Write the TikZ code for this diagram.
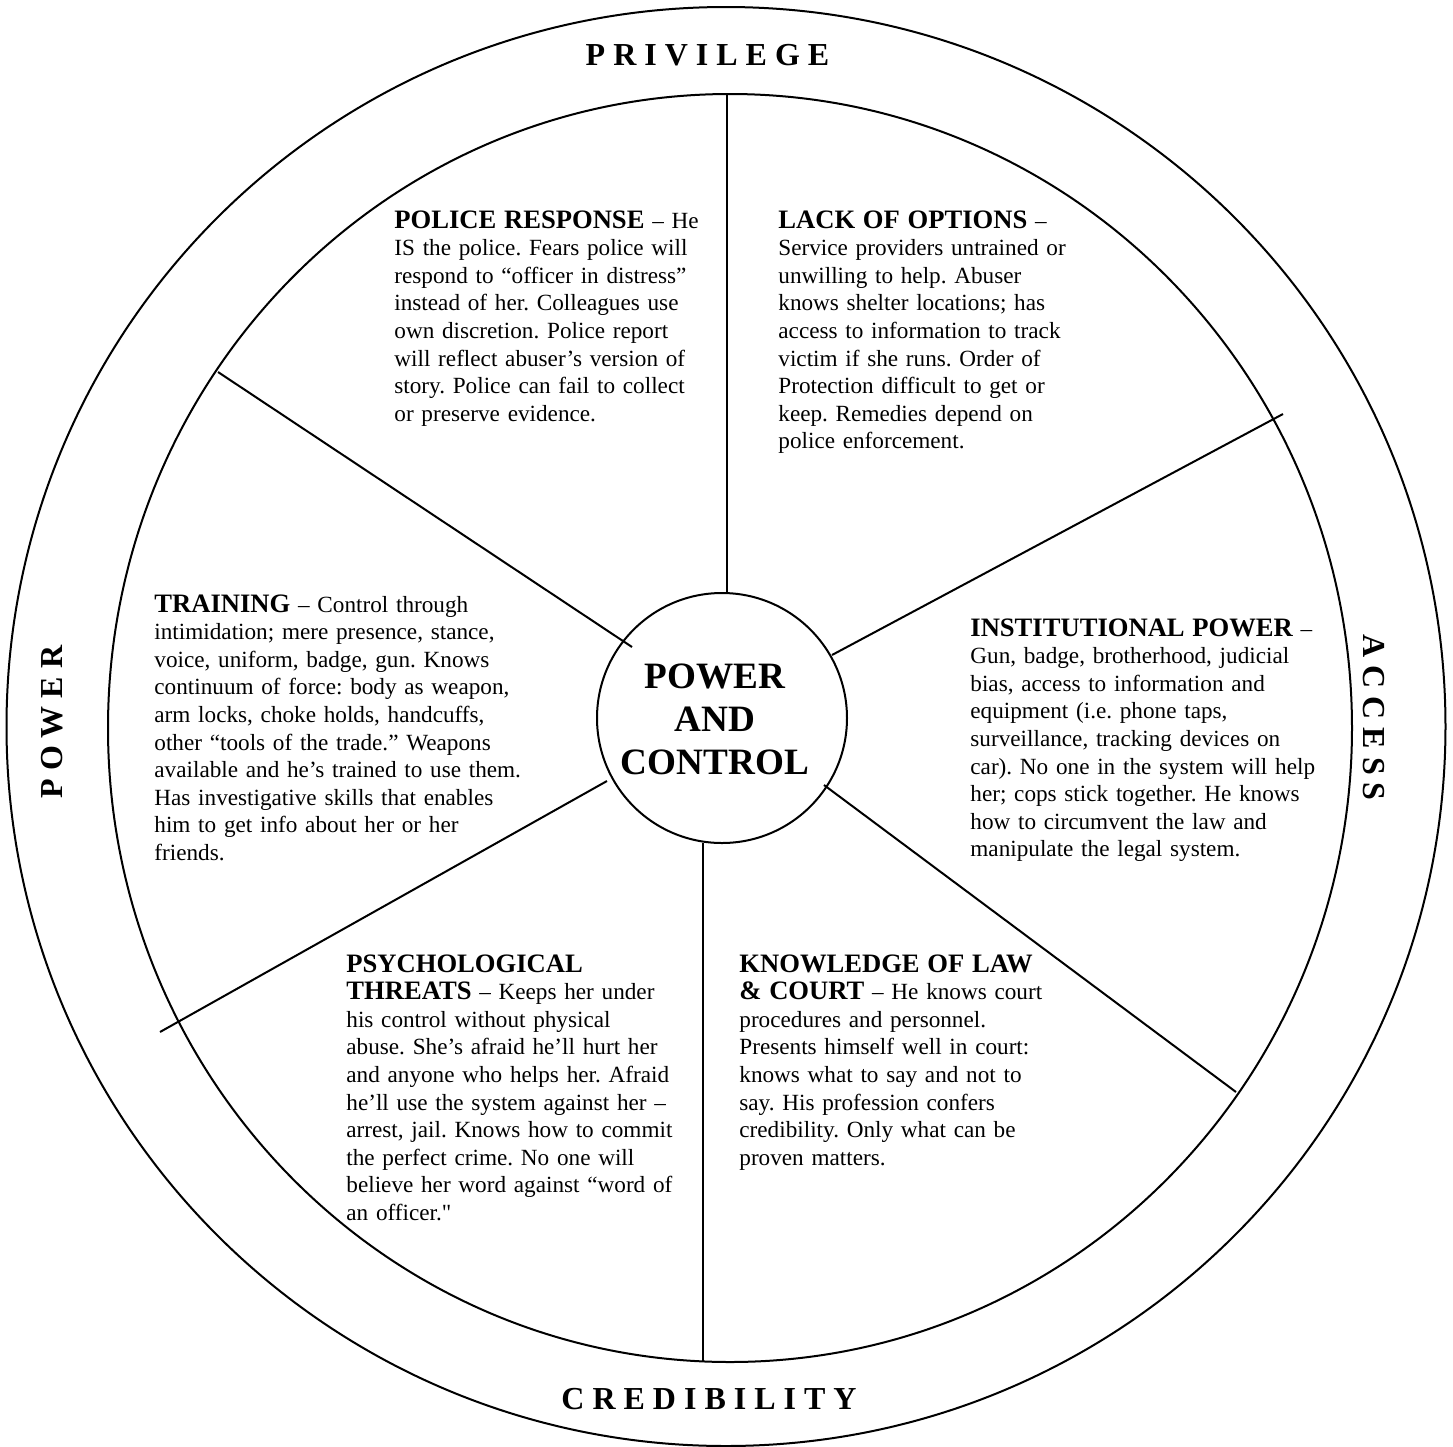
\documentclass[tikz,border=0pt]{standalone}
\usepackage{fontspec}
\setmainfont{Liberation Serif}
\newfontfamily\wheelfont{Liberation Serif}

\newcommand{\head}[1]{{\fontsize{13.3}{13.8}\selectfont\bfseries #1}}

\tikzset{
	rim/.style={line width=1pt},
	spoke/.style={line width=1pt},
	hub/.style={draw, circle, line width=1pt, minimum size=125pt, inner sep=0pt},
	hubtext/.style={align=center, inner sep=0pt, font=\wheelfont\fontsize{18.6}{21.5}\selectfont\bfseries},
	ringlabel/.style={inner sep=0pt, font=\wheelfont\fontsize{16}{19}\selectfont\bfseries},
	slice/.style={anchor=base west, text width=200pt, align=left, inner sep=0pt, font=\wheelfont\fontsize{11.6}{13.8}\selectfont\frenchspacing}
}

\begin{document}
\begin{tikzpicture}[x=0.5pt,y=-0.5pt]
	\useasboundingbox (0,0) rectangle (1453,1447);

	%outer wheel
\draw[rim] (726,726.5) circle [radius=719.5];
\draw[rim] (730,728) ellipse [x radius=622, y radius=634];

	%rim labels
\node[ringlabel, anchor=base] (privilege) at (707.5,65) {P R I V I L E G E};
\node[ringlabel, anchor=base] (credibility) at (709,1409) {C R E D I B I L I T Y};
\node[ringlabel, rotate=90] (power) at (52,722) {P O W E R};
\node[ringlabel, rotate=-90] (access) at (1374,717.5) {A C C E S S};

	%hub
\node[hub] (hub) at (722,718) {};
\node[hubtext] (title) at (715,719.5) {POWER\\AND\\CONTROL};

	%spoke ends
\coordinate (top-in) at (727,593);
\coordinate (top-out) at (727,94);
\coordinate (ul-in) at (632,647);
\coordinate (ul-out) at (218,372);
\coordinate (ur-in) at (832,655);
\coordinate (ur-out) at (1283,414);
\coordinate (ll-in) at (607,781);
\coordinate (ll-out) at (160,1032);
\coordinate (lr-in) at (824,785);
\coordinate (lr-out) at (1236,1092);
\coordinate (bot-in) at (703,843);
\coordinate (bot-out) at (703,1362);

	%spokes
\draw[spoke] (top-in) -- (top-out);
\draw[spoke] (ul-in) -- (ul-out);
\draw[spoke] (ur-in) -- (ur-out);
\draw[spoke] (ll-in) -- (ll-out);
\draw[spoke] (lr-in) -- (lr-out);
\draw[spoke] (bot-in) -- (bot-out);

	%police response slice
\node[slice] (police) at (394,228) {\head{POLICE RESPONSE} – He\\
	IS the police. Fears police will\\
	respond to “officer in distress”\\
	instead of her. Colleagues use\\
	own discretion. Police report\\
	will reflect abuser’s version of\\
	story. Police can fail to collect\\
	or preserve evidence.};

	%lack of options slice
\node[slice] (options) at (778,228) {\head{LACK OF OPTIONS} –\\
	Service providers untrained or\\
	unwilling to help. Abuser\\
	knows shelter locations; has\\
	access to information to track\\
	victim if she runs. Order of\\
	Protection difficult to get or\\
	keep. Remedies depend on\\
	police enforcement.};

	%training slice
\node[slice] (training) at (154,612) {\head{TRAINING} – Control through\\
	intimidation; mere presence, stance,\\
	voice, uniform, badge, gun. Knows\\
	continuum of force: body as weapon,\\
	arm locks, choke holds, handcuffs,\\
	other “tools of the trade.” Weapons\\
	available and he’s trained to use them.\\
	Has investigative skills that enables\\
	him to get info about her or her\\
	friends.};

	%institutional power slice
\node[slice] (institution) at (970,636) {\head{INSTITUTIONAL POWER} –\\
	Gun, badge, brotherhood, judicial\\
	bias, access to information and\\
	equipment (i.e. phone taps,\\
	surveillance, tracking devices on\\
	car). No one in the system will help\\
	her; cops stick together. He knows\\
	how to circumvent the law and\\
	manipulate the legal system.};

	%psychological threats slice
\node[slice] (threats) at (346,972) {\head{PSYCHOLOGICAL}\\
	\head{THREATS} – Keeps her under\\
	his control without physical\\
	abuse. She’s afraid he’ll hurt her\\
	and anyone who helps her. Afraid\\
	he’ll use the system against her –\\
	arrest, jail. Knows how to commit\\
	the perfect crime. No one will\\
	believe her word against “word of\\
	an officer."};

	%knowledge of law slice
\node[slice] (court) at (739,972) {\head{KNOWLEDGE OF LAW}\\
	\head{\& COURT} – He knows court\\
	procedures and personnel.\\
	Presents himself well in court:\\
	knows what to say and not to\\
	say. His profession confers\\
	credibility. Only what can be\\
	proven matters.};

\end{tikzpicture}
\end{document}
